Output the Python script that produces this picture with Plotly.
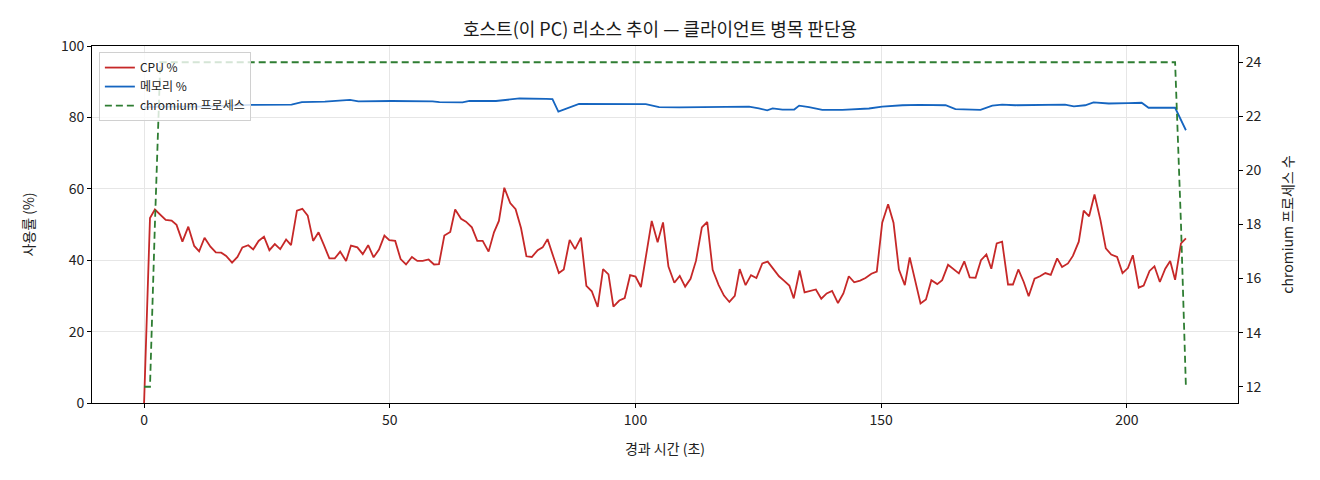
"""Host (this PC) resource trend: CPU / memory usage and chromium process count."""

import plotly.graph_objects as go

# Elapsed seconds for each CPU sample
elapsed_s = [
    0.0, 1.2, 2.2, 3.3, 4.4, 5.6, 6.6, 7.8, 9.0, 10.2,
    11.2, 12.3, 13.5, 14.6, 15.7, 16.7, 17.9, 19.0, 20.0, 21.2,
    22.2, 23.3, 24.4, 25.5, 26.6, 27.7, 28.9, 29.9, 31.1, 32.2,
    33.3, 34.4, 35.5, 36.6, 37.7, 38.8, 39.9, 41.1, 42.1, 43.4,
    44.5, 45.6, 46.7, 47.8, 48.9, 49.9, 51.1, 52.2, 53.3, 54.5,
    55.6, 56.7, 57.9, 59.0, 60.0, 61.1, 62.3, 63.3, 64.5, 65.5,
    66.7, 67.8, 68.9, 70.1, 71.2, 72.2, 73.3, 74.5, 75.6, 76.7,
    77.8, 78.9, 80.1, 81.1, 82.1, 83.3, 84.4, 85.4, 86.6, 87.7,
    88.9, 90.0, 91.1, 92.3, 93.4, 94.5, 95.5, 96.7, 97.8, 98.9,
    100.0, 101.1, 102.2, 103.3, 104.5, 105.6, 106.7, 107.9, 109.0, 110.1,
    111.2, 112.3, 113.5, 114.6, 115.7, 116.9, 118.0, 119.1, 120.2, 121.2,
    122.4, 123.5, 124.6, 125.8, 126.9, 128.0, 129.2, 130.2, 131.3, 132.2,
    133.4, 134.4, 135.5, 136.7, 137.8, 138.9, 140.0, 141.2, 142.3, 143.4,
    144.5, 145.7, 146.8, 148.0, 149.1, 150.2, 151.4, 152.5, 153.6, 154.8,
    155.8, 156.9, 158.0, 159.1, 160.2, 161.4, 162.4, 163.6, 164.7, 165.8,
    166.9, 168.0, 169.2, 170.3, 171.4, 172.4, 173.5, 174.6, 175.8, 176.8,
    177.9, 179.0, 180.0, 181.2, 182.3, 183.4, 184.5, 185.8, 186.8, 188.0,
    189.0, 190.2, 191.2, 192.3, 193.4, 194.6, 195.7, 196.8, 198.0, 199.1,
    200.2, 201.2, 202.4, 203.4, 204.6, 205.6, 206.7, 207.8, 208.8, 209.8,
    211.0, 212.0,
]

cpu_pct = [
    0.0, 51.8, 54.2, 52.7, 51.3, 51.1, 49.9, 45.2, 49.4, 44.0,
    42.5, 46.3, 43.8, 42.2, 42.1, 41.2, 39.3, 40.9, 43.6, 44.2,
    43.0, 45.4, 46.6, 42.8, 44.5, 43.1, 45.8, 44.2, 53.9, 54.4,
    52.5, 45.4, 47.8, 44.2, 40.5, 40.5, 42.4, 39.8, 44.1, 43.6,
    41.7, 44.2, 40.8, 43.0, 46.9, 45.6, 45.4, 40.3, 38.8, 40.9,
    39.8, 39.8, 40.2, 38.8, 38.9, 46.9, 47.9, 54.2, 51.6, 50.8,
    49.2, 45.4, 45.4, 42.4, 47.8, 51.0, 60.3, 56.0, 54.3, 49.0,
    41.1, 40.9, 42.8, 43.6, 45.9, 40.9, 36.4, 37.4, 45.7, 43.1,
    46.3, 32.8, 31.3, 26.9, 37.5, 36.0, 27.0, 28.7, 29.4, 35.8,
    35.4, 32.5, 41.8, 51.0, 45.0, 50.6, 38.2, 33.7, 35.6, 32.6,
    34.8, 39.8, 49.2, 50.7, 37.3, 33.1, 30.1, 28.3, 30.0, 37.5,
    33.0, 35.8, 35.0, 39.1, 39.6, 37.6, 35.5, 34.3, 32.9, 29.3,
    37.1, 31.0, 31.3, 31.8, 29.2, 30.7, 31.4, 28.0, 30.7, 35.5,
    33.8, 34.3, 35.0, 36.2, 36.8, 50.5, 55.7, 50.5, 37.4, 33.0,
    40.8, 34.2, 27.9, 29.0, 34.4, 33.3, 34.4, 38.7, 37.6, 36.3,
    39.7, 35.2, 35.1, 40.0, 41.6, 37.6, 44.7, 45.2, 33.2, 33.2,
    37.4, 33.9, 29.9, 34.8, 35.5, 36.4, 35.9, 40.5, 38.1, 39.1,
    41.2, 45.2, 53.9, 52.3, 58.4, 51.3, 43.3, 41.6, 40.9, 36.4,
    37.8, 41.4, 32.3, 32.9, 37.0, 38.3, 33.9, 37.6, 39.8, 34.5,
    44.7, 46.1,
]

# Memory usage, read at the visible bends of the line
mem_t = [
    0.0, 2.9, 11.7, 21.9, 30.0, 32.1, 36.8, 41.9, 43.6, 50.4,
    58.7, 60.1, 64.8, 66.2, 71.6, 73.6, 76.4, 81.8, 83.1, 84.3,
    88.5, 102.1, 104.8, 108.9, 123.1, 125.1, 126.8, 127.9, 129.9, 132.3,
    133.3, 135.3, 138.0, 142.1, 147.5, 150.2, 154.3, 157.7, 163.1, 165.1,
    167.8, 170.2, 172.6, 174.6, 177.3, 184.1, 187.4, 189.2, 191.5, 193.2,
    196.3, 200.3, 203.0, 204.4, 209.8, 212.0,
]
mem_pct = [
    82.8, 83.0, 83.0, 83.5, 83.6, 84.3, 84.4, 84.9, 84.5, 84.6,
    84.5, 84.3, 84.2, 84.6, 84.6, 84.9, 85.3, 85.2, 85.1, 81.6,
    83.8, 83.7, 82.9, 82.8, 83.0, 82.5, 82.0, 82.5, 82.2, 82.2,
    83.3, 82.9, 82.1, 82.1, 82.5, 83.0, 83.4, 83.5, 83.4, 82.3,
    82.1, 82.1, 83.3, 83.6, 83.4, 83.5, 83.6, 83.1, 83.4, 84.2,
    83.9, 84.0, 84.1, 82.7, 82.7, 76.4,
]

# chromium process count
proc_t = [0.0, 1.2, 2.2, 3.3, 209.8, 211.0, 212.0]
proc_count = [12, 12, 18, 24, 24, 18, 12]

FONT = "Noto Sans CJK KR, Noto Sans, DejaVu Sans, sans-serif"
GRID = "#e6e6e6"

fig = go.Figure()

fig.add_trace(
    go.Scatter(
        x=elapsed_s, y=cpu_pct, name="CPU %", mode="lines",
        line=dict(color="#c62828", width=1.8),
    )
)
fig.add_trace(
    go.Scatter(
        x=mem_t, y=mem_pct, name="메모리 %", mode="lines",
        line=dict(color="#1565c0", width=1.8),
    )
)
fig.add_trace(
    go.Scatter(
        x=proc_t, y=proc_count, name="chromium 프로세스", mode="lines",
        line=dict(color="#2e7d32", width=1.8, dash="7px,4px"),
        yaxis="y2",
    )
)

# page body keeps an 8px margin, so the figure is 16px smaller than the window
fig.update_layout(
    width=1304,
    height=464,
    paper_bgcolor="white",
    plot_bgcolor="white",
    font=dict(family=FONT, size=14, color="#222222"),
    margin=dict(l=84, r=74, t=38, b=69),
    title=dict(
        text="호스트(이 PC) 리소스 추이 — 클라이언트 병목 판단용",
        font=dict(size=18, color="#1a1a1a"),
        x=0.5, xanchor="center", y=0.953, yanchor="middle",
    ),
    showlegend=True,
    legend=dict(
        x=0.006, y=0.983, xanchor="left", yanchor="top",
        bgcolor="rgba(255,255,255,0.8)",
        bordercolor="#d0d0d0", borderwidth=1,
        font=dict(size=12),
        itemwidth=30,
        tracegroupgap=0,
    ),
)

fig.update_xaxes(
    range=[-10.6, 222.6],
    tickvals=[0, 50, 100, 150, 200],
    showgrid=True, gridcolor=GRID, gridwidth=1,
    zeroline=False,
    showline=True, linecolor="black", linewidth=1, mirror=True,
    ticks="outside", ticklen=4, tickcolor="black",
    title=dict(text="경과 시간 (초)", standoff=16, font=dict(size=14)),
)

fig.update_layout(
    yaxis=dict(
        range=[0, 100],
        tickvals=[0, 20, 40, 60, 80, 100],
        showgrid=True, gridcolor=GRID, gridwidth=1,
        zeroline=False,
        showline=True, linecolor="black", linewidth=1, mirror=True,
        ticks="outside", ticklen=4, tickcolor="black",
        title=dict(text="사용률 (%)", standoff=22, font=dict(size=14)),
    ),
    yaxis2=dict(
        overlaying="y",
        side="right",
        range=[11.4, 24.6],
        tickvals=[12, 14, 16, 18, 20, 22, 24],
        showgrid=False,
        zeroline=False,
        showline=True, linecolor="black", linewidth=1,
        ticks="outside", ticklen=4, tickcolor="black",
        title=dict(text="chromium 프로세스 수", standoff=22, font=dict(size=14)),
    ),
)

fig.write_html("out.html")
